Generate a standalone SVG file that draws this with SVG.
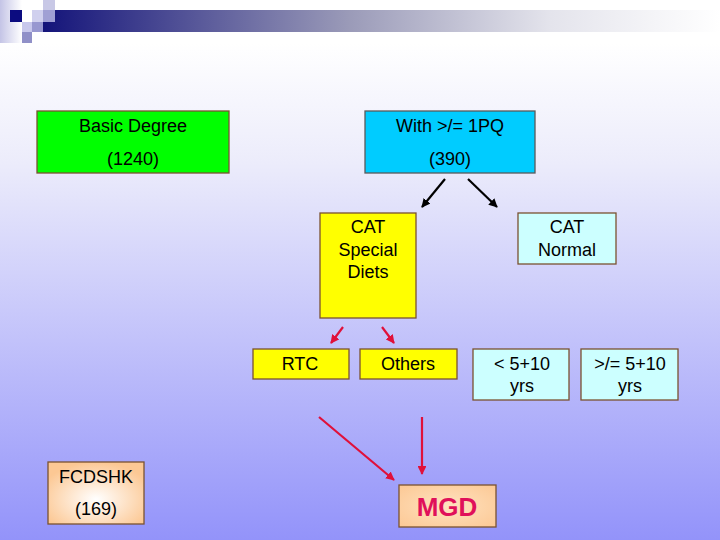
<svg xmlns="http://www.w3.org/2000/svg" width="720" height="540" viewBox="0 0 720 540">
<defs>
<linearGradient id="bg" x1="0" y1="0" x2="0" y2="1">
<stop offset="0.08" stop-color="#ffffff"/>
<stop offset="0.3" stop-color="#ececfb"/>
<stop offset="1" stop-color="#9393fa"/>
</linearGradient>
<linearGradient id="bar" x1="0" y1="0" x2="1" y2="0">
<stop offset="0" stop-color="#14147a"/>
<stop offset="0.45" stop-color="#9a9ab8"/>
<stop offset="0.75" stop-color="#e4e4ec"/>
<stop offset="1" stop-color="#ffffff"/>
</linearGradient>
<linearGradient id="edge" x1="0" y1="0" x2="1" y2="0">
<stop offset="0" stop-color="#c4c4e6"/>
<stop offset="1" stop-color="#ffffff"/>
</linearGradient>
<radialGradient id="peach" cx="0.5" cy="0.6" r="0.6">
<stop offset="0" stop-color="#ffffff"/>
<stop offset="1" stop-color="#fcc894"/>
</radialGradient>
<radialGradient id="peach2" cx="0.5" cy="0.5" r="0.7">
<stop offset="0" stop-color="#ffe2c0"/>
<stop offset="1" stop-color="#fcc894"/>
</radialGradient>
<marker id="ab" viewBox="0 0 10 10" refX="9" refY="5" markerWidth="4" markerHeight="4" orient="auto">
<path d="M0,0 L10,5 L0,10 z" fill="#000"/>
</marker>
<marker id="ar" viewBox="0 0 10 10" refX="9" refY="5" markerWidth="4" markerHeight="4" orient="auto">
<path d="M0,0 L10,5 L0,10 z" fill="#e0103a"/>
</marker>
</defs>
<style>
text{font-family:"Liberation Sans",Arial,sans-serif;font-size:18px;fill:#000;text-anchor:middle}
.bd{stroke:#7a5230;stroke-width:1.3}
.bg2{stroke:#5a5a5a;stroke-width:1.3}
.cb{stroke:#000;stroke-width:2.2;fill:none}
.cr{stroke:#e0103a;stroke-width:2.2;fill:none}
</style>
<rect x="0" y="0" width="720" height="540" fill="url(#bg)"/>
<g id="banner">
<rect x="0" y="0" width="22" height="43" fill="url(#edge)"/>
<rect x="43" y="10" width="677" height="22" fill="url(#bar)"/>
<rect x="10" y="10" width="12" height="12" fill="#0c0c80"/>
<rect x="43" y="0" width="12" height="10" fill="#c8c8e6"/>
<rect x="32" y="10" width="11" height="12" fill="#d0d0ee"/>
<rect x="43" y="10" width="12" height="12" fill="#a0a0d4"/>
<rect x="22" y="22" width="10" height="10" fill="#c8c8ec"/>
<rect x="32" y="22" width="11" height="10" fill="#9898d0"/>
<rect x="22" y="32" width="10" height="11" fill="#9090c8"/>
</g>
<g id="connectors">
<line class="cb" x1="445" y1="179" x2="422" y2="207" marker-end="url(#ab)"/>
<line class="cb" x1="468" y1="179" x2="497" y2="207" marker-end="url(#ab)"/>
<line class="cr" x1="343" y1="327" x2="331" y2="343" marker-end="url(#ar)"/>
<line class="cr" x1="382" y1="327" x2="394" y2="343" marker-end="url(#ar)"/>
<line class="cr" x1="319" y1="417" x2="394" y2="480" marker-end="url(#ar)"/>
<line class="cr" x1="422" y1="417" x2="422" y2="474" marker-end="url(#ar)"/>
</g>
<g id="basic">
<rect class="bd" x="37" y="111" width="192" height="62" fill="#00ff00" stroke="#4a6a20"/>
<text x="133" y="132">Basic Degree</text>
<text x="133" y="165">(1240)</text>
</g>
<g id="with1pq">
<rect class="bg2" x="365" y="111" width="170" height="62" fill="#00ccff"/>
<text x="450" y="132">With &gt;/= 1PQ</text>
<text x="450" y="165">(390)</text>
</g>
<g id="catspecial">
<rect class="bd" x="320" y="213" width="96" height="105" fill="#ffff00"/>
<text x="368" y="233">CAT</text>
<text x="368" y="256">Special</text>
<text x="368" y="278">Diets</text>
</g>
<g id="catnormal">
<rect class="bd" x="518" y="213" width="98" height="51" fill="#ccffff"/>
<text x="567" y="233">CAT</text>
<text x="567" y="256">Normal</text>
</g>
<g id="rtc">
<rect class="bd" x="253" y="349" width="96" height="30" fill="#ffff00"/>
<text x="300" y="370">RTC</text>
</g>
<g id="others">
<rect class="bd" x="360" y="349" width="97" height="30" fill="#ffff00"/>
<text x="408" y="370">Others</text>
</g>
<g id="lt510">
<rect class="bd" x="473" y="349" width="96" height="51" fill="#ccffff"/>
<text x="522" y="370">&lt; 5+10</text>
<text x="522" y="392">yrs</text>
</g>
<g id="ge510">
<rect class="bd" x="581" y="349" width="97" height="51" fill="#ccffff"/>
<text x="630" y="370">&gt;/= 5+10</text>
<text x="630" y="392">yrs</text>
</g>
<g id="fcdshk">
<rect class="bd" x="48" y="462" width="96" height="62" fill="url(#peach)"/>
<text x="96" y="483">FCDSHK</text>
<text x="96" y="515">(169)</text>
</g>
<g id="mgd">
<rect class="bd" x="399" y="485" width="97" height="42" fill="url(#peach2)"/>
<text x="447" y="516" style="font-size:26px;font-weight:bold;fill:#e0105a">MGD</text>
</g>
</svg>
